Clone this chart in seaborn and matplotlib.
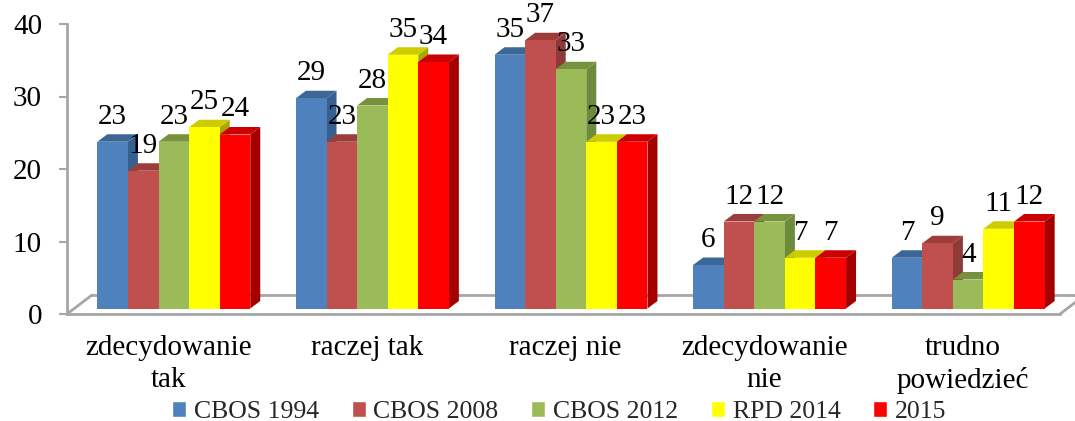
import matplotlib
matplotlib.use("Agg")
import matplotlib.pyplot as plt
import matplotlib.transforms as mtrans
from matplotlib.patches import Polygon
from matplotlib.lines import Line2D
import pandas as pd
import seaborn as sns

categories = ["zdecydowanie\ntak", "raczej tak", "raczej nie", "zdecydowanie\nnie", "trudno\npowiedzieć"]
cbos_1994 = [23, 29, 35, 6, 7]
cbos_2008 = [19, 23, 37, 12, 9]
cbos_2012 = [23, 28, 33, 12, 4]
rpd_2014 = [25, 35, 23, 7, 11]
y2015 = [24, 34, 23, 7, 12]
series_names = ["CBOS 1994", "CBOS 2008", "CBOS 2012", "RPD 2014", "2015"]
series_values = [cbos_1994, cbos_2008, cbos_2012, rpd_2014, y2015]
front_colors = ["#4f81bd", "#c0504d", "#9bbb59", "#ffff00", "#ff0000"]
top_colors = ["#3c6696", "#9c3d3b", "#76923c", "#cccc00", "#cc0000"]
side_colors = ["#35608f", "#8e3a38", "#6e8b3d", "#a8a800", "#a50000"]
y_ticks = [0, 10, 20, 30, 40]

sns.set_theme(style="white")
plt.rcParams["font.family"] = ["Liberation Serif", "DejaVu Serif"]
W, H = 1075, 421
fig = plt.figure(figsize=(W / 100, H / 100), dpi=100)
L, R, T, B = 67, 1060, 24, 314
ax = fig.add_axes([L / W, (H - B) / H, (R - L) / W, (B - T) / H])

df = pd.DataFrame(
    [(c, s, v) for s, vals in zip(series_names, series_values) for c, v in zip(categories, vals)],
    columns=["category", "series", "value"],
)
sns.barplot(data=df, x="category", y="value", hue="series", palette=front_colors,
            order=categories, hue_order=series_names, width=0.77, gap=0,
            saturation=1, errorbar=None, legend=True, ax=ax)

px_x = (R - L) / 5
px_y = (B - T) / 40
dx, dy = 10 / px_x, 7.5 / px_y
shift = mtrans.offset_copy(ax.transData, x=7.5, y=5.5, units="dots")
label_size = 21

for i, cont in enumerate(ax.containers):
    z = 3 + i
    for bar, val in zip(cont.patches, series_values[i]):
        x0, w, h = bar.get_x(), bar.get_width(), bar.get_height()
        x1 = x0 + w
        bar.set_transform(shift)
        bar.set_clip_on(False)
        bar.set_zorder(z + 0.5)
        bar.set_linewidth(0)
        ax.add_patch(Polygon([(x1, 0), (x1 + dx, dy), (x1 + dx, h + dy), (x1, h)], closed=True,
                             fc=side_colors[i], ec="none", transform=shift, clip_on=False, zorder=z))
        ax.add_patch(Polygon([(x0, h), (x0 + dx, h + dy), (x1 + dx, h + dy), (x1, h)], closed=True,
                             fc=top_colors[i], ec="none", transform=shift, clip_on=False, zorder=z + 0.2))
        ax.annotate(str(val), xy=(x0 + w / 2, h), xycoords=shift, xytext=(0, 18), textcoords="offset points",
                    ha="center", va="center", fontsize=label_size, color="black", zorder=20)

ax.set_xlim(-0.5, 4.5)
ax.set_ylim(0, 40)
ax.set_yticks(y_ticks)
ax.set_xlabel("")
ax.set_ylabel("")

grey = "#a6a6a6"
for s in ["top", "right"]:
    ax.spines[s].set_visible(False)
for s in ["left", "bottom"]:
    ax.spines[s].set_color(grey)
    ax.spines[s].set_linewidth(2)
ax.tick_params(axis="y", left=True, length=6, width=1.5, color=grey, pad=12, labelsize=21, labelcolor="black")
ax.tick_params(axis="x", bottom=False, length=0, pad=15, labelsize=21, labelcolor="black")
label_shift = mtrans.Affine2D().translate(2, 0)
for t in ax.get_xticklabels():
    t.set_linespacing(1.3)
    t.set_transform(t.get_transform() + label_shift)

rear = mtrans.offset_copy(ax.transData, x=25, y=19, units="dots")
x_low, x_high = ax.get_xlim()
ax.add_line(Line2D([x_low, x_high], [0, 0], transform=rear, color=grey, lw=2, clip_on=False, zorder=1))
for xe in (x_low, x_high):
    ax.add_line(Line2D([xe, xe + 25 / px_x], [0, 19 / px_y], color=grey, lw=2, clip_on=False, zorder=1))

leg = ax.legend(loc="lower left", bbox_to_anchor=(172 / W, -2 / H), bbox_transform=fig.transFigure,
                ncol=5, frameon=False, fontsize=18.5, handlelength=0.55, handleheight=0.55,
                handletextpad=0.3, columnspacing=1.27, borderpad=0, borderaxespad=0)
leg.set_title(None)

fig.savefig("out.png", dpi=100)
